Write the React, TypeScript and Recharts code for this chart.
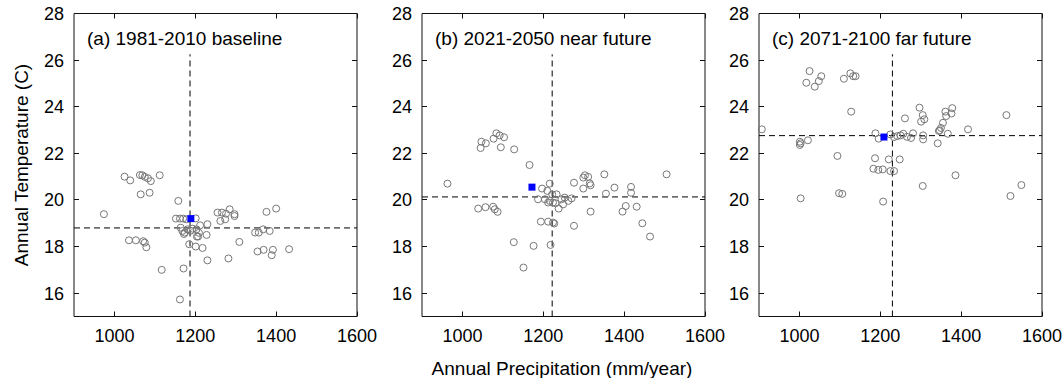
import React from "react";
import { ScatterChart, Scatter, XAxis, YAxis, ReferenceLine, ReferenceArea } from "recharts";

const xTicks = [1000, 1200, 1400, 1600];
const yTicks = [16, 18, 20, 22, 24, 26, 28];

const titles = ["(a) 1981-2010 baseline", "(b) 2021-2050 near future", "(c) 2071-2100 far future"];

// (a) 1981-2010
const precipA = [
  974, 1025, 1039, 1063, 1069, 1075, 1083, 1090, 1112, 1065, 1087, 1158, 1152, 1162, 1170, 1178,
  1201, 1164, 1168, 1174, 1181, 1193, 1203, 1207, 1212, 1230, 1228, 1185, 1201, 1218, 1204, 1230,
  1171, 1117, 1162, 1255, 1266, 1276, 1285, 1297, 1297, 1262, 1274, 1309, 1282, 1348, 1357, 1368,
  1384, 1376, 1400, 1354, 1369, 1392, 1389, 1432, 1036, 1053, 1071, 1075, 1079, 1172, 1209, 1188,
];
const tempA = [
  19.39, 21.0, 20.84, 21.07, 21.06, 20.99, 20.93, 20.81, 21.06, 20.24, 20.31, 19.96, 19.2, 19.2, 19.2, 19.17,
  19.21, 18.81, 18.67, 18.6, 18.74, 18.77, 18.74, 18.43, 18.91, 18.96, 18.5, 18.1, 18.0, 17.94, 18.43, 17.41,
  17.06, 17.0, 15.73, 19.46, 19.46, 19.41, 19.6, 19.39, 19.31, 19.1, 19.17, 18.2, 17.49, 18.6, 18.6, 18.74,
  18.67, 19.49, 19.63, 17.79, 17.86, 17.86, 17.63, 17.89, 18.27, 18.27, 18.23, 18.17, 17.97, 18.54, 18.59, 18.68,
];

// (b) 2021-2050
const precipB = [
  963, 1039, 1057, 1076, 1080, 1087, 1047, 1045, 1058, 1077, 1084, 1092, 1103, 1095, 1128, 1166,
  1127, 1176, 1151, 1218, 1194, 1212, 1224, 1227, 1276, 1197, 1216, 1210, 1222, 1233, 1187, 1204,
  1216, 1224, 1230, 1238, 1245, 1253, 1262, 1270, 1249, 1212, 1276, 1299, 1303, 1311, 1315, 1317,
  1299, 1317, 1351, 1355, 1376, 1417, 1417, 1396, 1404, 1431, 1445, 1464, 1505,
];
const tempB = [
  20.7, 19.63, 19.69, 19.71, 19.6, 19.49, 22.5, 22.23, 22.43, 22.63, 22.86, 22.77, 22.69, 22.26, 22.17, 21.5,
  18.19, 18.03, 17.1, 18.07, 19.07, 19.07, 19.03, 18.99, 18.89, 20.49, 20.7, 20.39, 20.24, 20.24, 20.03, 20.03,
  19.96, 19.89, 19.86, 19.63, 20.03, 20.1, 19.96, 20.07, 19.81, 19.89, 20.74, 20.96, 21.06, 20.99, 20.71, 20.63,
  20.49, 19.5, 21.1, 20.27, 20.53, 20.56, 20.31, 19.5, 19.74, 19.71, 19.0, 18.43, 21.1,
];

// (c) 2071-2100
const precipC = [
  907, 1001, 1001, 1003, 1021, 1003, 1017, 1025, 1038, 1048, 1054, 1110, 1126, 1133, 1139, 1128,
  1094, 1098, 1106, 1207, 1187, 1183, 1195, 1206, 1221, 1225, 1234, 1248, 1188, 1196, 1225, 1234,
  1242, 1250, 1257, 1266, 1276, 1281, 1306, 1306, 1261, 1297, 1305, 1301, 1309, 1342, 1345, 1350,
  1355, 1361, 1363, 1378, 1376, 1367, 1347, 1417, 1386, 1305, 1512, 1522, 1549,
];
const tempC = [
  23.03, 22.5, 22.36, 22.43, 22.56, 20.07, 25.03, 25.53, 24.86, 25.1, 25.31, 25.2, 25.43, 25.31, 25.31, 23.79,
  21.89, 20.29, 20.26, 19.93, 21.79, 21.34, 21.29, 21.31, 21.74, 21.24, 21.24, 21.74, 22.86, 22.63, 22.81, 22.7,
  22.74, 22.77, 22.84, 22.71, 22.66, 22.86, 22.77, 22.6, 23.5, 23.96, 23.64, 23.36, 23.46, 22.43, 22.96, 23.09,
  23.31, 23.79, 23.6, 23.94, 23.71, 22.84, 22.99, 23.03, 21.06, 20.6, 23.64, 20.17, 20.64,
];

const meanP = [1189, 1172, 1209];
const meanT = [19.2, 20.55, 22.7];
const medianP = [1187, 1222, 1230];
const medianT = [18.8, 20.13, 22.76];

const precip = [precipA, precipB, precipC];
const temp = [tempA, tempB, tempC];

const plotLefts = [73.5, 421.5, 758.5];
const PLOT_W = 283;
const PLOT_TOP = 13.5;
const X_AXIS_H = 61.5;
const CHART_H = 378;
const PLOT_H = CHART_H - PLOT_TOP - X_AXIS_H;
const Y_AXIS_W = 45;
const RIGHT_PAD = 30;
const TICK_LEN = 5;
const X_MARGIN = 13;
const Y_MARGIN = 10;
const FONT = "'Liberation Sans', Arial, sans-serif";

const crisp = (v: number) => Math.floor(v) + 0.5;

const Circle = (p: any) => (
  <circle cx={p.cx} cy={p.cy} r={3.5} fill="none" stroke="#777" strokeWidth={1} />
);
const Square = (p: any) => (
  <rect x={p.cx - 3.5} y={p.cy - 3.5} width={7} height={7} fill="#0000ff" />
);

// bottom labels, with inward ticks on bottom and top edges
const XTick = (p: any) => {
  const axisY = p.y - X_MARGIN;
  const x = crisp(p.x);
  return (
    <g>
      <path
        d={`M${x},${axisY}v${-TICK_LEN}M${x},${axisY - PLOT_H}v${TICK_LEN}`}
        stroke="#111"
        strokeWidth={1}
        fill="none"
      />
      <text x={p.x} y={p.y} dy="0.71em" textAnchor="middle" fontSize={18} fontFamily={FONT} fill="#000">
        {p.payload.value}
      </text>
    </g>
  );
};

// left labels, with inward ticks on left and right edges
const YTick = (p: any) => {
  const axisX = p.x + Y_MARGIN;
  const y = crisp(p.y);
  return (
    <g>
      <path
        d={`M${axisX},${y}h${TICK_LEN}M${axisX + PLOT_W},${y}h${-TICK_LEN}`}
        stroke="#111"
        strokeWidth={1}
        fill="none"
      />
      <text x={p.x} y={p.y} dy="0.355em" textAnchor="end" fontSize={18} fontFamily={FONT} fill="#000">
        {p.payload.value}
      </text>
    </g>
  );
};

function Panel({ i }: { i: number }) {
  const pts = precip[i].map((p, k) => ({ p, t: temp[i][k] }));
  const mean = [{ p: meanP[i], t: meanT[i] }];
  return (
    <div style={{ position: "absolute", left: plotLefts[i] - Y_AXIS_W, top: 0 }}>
      <ScatterChart
        width={Y_AXIS_W + PLOT_W + RIGHT_PAD}
        height={CHART_H}
        margin={{ top: PLOT_TOP, right: RIGHT_PAD, bottom: 0, left: 0 }}
      >
        <XAxis
          type="number"
          dataKey="p"
          domain={[900, 1600]}
          ticks={xTicks}
          height={X_AXIS_H}
          tickSize={0}
          tickMargin={X_MARGIN}
          tickLine={false}
          axisLine={false}
          tick={XTick}
        />
        <YAxis
          type="number"
          dataKey="t"
          domain={[15, 28]}
          ticks={yTicks}
          width={Y_AXIS_W}
          tickSize={0}
          tickMargin={Y_MARGIN}
          tickLine={false}
          axisLine={false}
          tick={YTick}
        />
        <ReferenceArea
          x1={900}
          x2={1600}
          y1={15}
          y2={28}
          ifOverflow="visible"
          fill="none"
          stroke="#111"
          strokeWidth={1}
          strokeOpacity={1}
        />
        <Scatter data={pts} shape={Circle} isAnimationActive={false} />
        <ReferenceLine y={medianT[i]} stroke="#000" strokeDasharray="6 4" />
        <ReferenceLine
          segment={[
            { x: medianP[i], y: 15 },
            { x: medianP[i], y: 26.25 },
          ]}
          stroke="#000"
          strokeDasharray="6 4"
        />
        <Scatter data={mean} shape={Square} isAnimationActive={false} />
      </ScatterChart>
      <div
        style={{
          position: "absolute",
          left: Y_AXIS_W + 13.5,
          top: 29,
          fontSize: 19,
          lineHeight: 1,
          fontFamily: FONT,
          whiteSpace: "nowrap",
          color: "#000",
        }}
      >
        {titles[i]}
      </div>
    </div>
  );
}

export default function App() {
  return (
    <div
      style={{
        position: "absolute",
        left: 0,
        top: 0,
        width: 1064,
        height: 378,
        background: "#fff",
        fontFamily: FONT,
        overflow: "hidden",
      }}
    >
      {[0, 1, 2].map((i) => (
        <Panel key={i} i={i} />
      ))}
      <div
        style={{
          position: "absolute",
          left: 22,
          top: 165,
          transform: "translate(-50%, -50%) rotate(-90deg)",
          fontSize: 19,
          whiteSpace: "nowrap",
          color: "#000",
        }}
      >
        Annual Temperature (C)
      </div>
      <div
        style={{
          position: "absolute",
          left: 562,
          top: 359,
          transform: "translateX(-50%)",
          fontSize: 19,
          lineHeight: 1,
          whiteSpace: "nowrap",
          color: "#000",
        }}
      >
        Annual Precipitation (mm/year)
      </div>
    </div>
  );
}
